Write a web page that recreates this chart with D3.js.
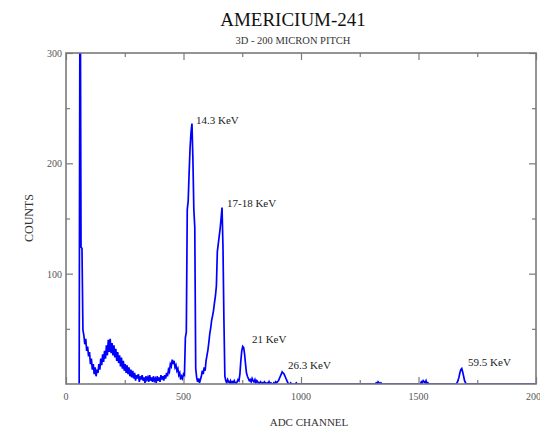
<!DOCTYPE html>
<html>
<head>
<meta charset="utf-8">
<script src="https://cdn.jsdelivr.net/npm/d3@7"></script>
<style>
	body { margin: 0; background: #fff; }
	text { font-family: "Liberation Serif", "DejaVu Serif", serif; }
</style>
</head>
<body>
<div id="chart"></div>
<script>

// spectrum, channels 56..996 in steps of 4
let lowStart = 56;
let lowStep = 4;
let lowCounts = [
	0, 420, 124, 123, 49, 44, 36, 41, 30, 34,
	25, 29, 18, 23, 13, 18, 9, 15, 7, 13,
	10, 18, 13, 23, 17, 27, 20, 30, 23, 35,
	26, 40, 29, 41, 28, 37, 26, 35, 24, 32,
	21, 29, 19, 26, 16, 24, 14, 21, 12, 18,
	10, 17, 9, 15, 7, 13, 6, 12, 5, 10,
	3, 8, 5, 9, 2, 7, 4, 8, 3, 6,
	1, 7, 4, 6, 2, 8, 3, 6, 2, 7,
	3, 5, 1, 7, 3, 6, 2, 8, 4, 7,
	3, 8, 5, 10, 7, 13, 11, 18, 16, 22,
	18, 21, 15, 17, 12, 14, 8, 10, 4, 7,
	5, 9, 8, 42, 47, 158, 166, 192, 214, 228,
	236, 204, 158, 142, 14, 6, 2, 5, 1, 4,
	7, 12, 9, 15, 12, 21, 26, 31, 38, 46,
	51, 58, 62, 67, 74, 80, 89, 120, 127, 134,
	141, 150, 160, 124, 58, 7, 3, 1, 4, 2,
	1, 3, 0, 2, 1, 3, 1, 0, 2, 4,
	3, 9, 21, 30, 34, 33, 27, 18, 10, 7,
	5, 3, 4, 2, 5, 3, 2, 4, 1, 3,
	2, 0, 1, 2, 0, 1, 0, 2, 1, 0,
	1, 0, 2, 0, 1, 0, 0, 1, 0, 2,
	1, 2, 3, 5, 7, 9, 11, 10, 9, 7,
	5, 3, 1, 0, 0, 1, 0, 0, 0, 0,
	0, 1, 0, 0, 0, 0
];

// upper part of the spectrum, only where something shows
let highChannels = [1000, 1316, 1320, 1324, 1328, 1332, 1336, 1340, 1344, 1500,
	1508, 1512, 1516, 1520, 1524, 1528, 1532, 1536, 1540, 1544,
	1660, 1664, 1668, 1672, 1676, 1680, 1684, 1688, 1692, 1696, 1700, 1704, 2000];
let highCounts = [0, 0, 1, 0, 2, 1, 0, 1, 0, 0,
	0, 2, 1, 3, 2, 1, 3, 0, 1, 0,
	0, 1, 3, 6, 10, 13, 14, 11, 7, 3, 1, 0, 0];

let xTicks = [0, 500, 1000, 1500, 2000];
let xMinorTicks = [250, 750, 1250, 1750];
let yTicks = [100, 200, 300];
let yMinorTicks = [50, 150, 250];

let peakNames = ['14.3 KeV', '17-18 KeV', '21 KeV', '26.3 KeV', '59.5 KeV'];
let peakLabelAt = [[553, 236], [685, 160], [791, 37], [945, 13.6], [1711, 16.3]];

let title = 'AMERICIUM-241';
let subtitle = '3D - 200 MICRON PITCH';

let width = 540;
let height = 430;
let plotLeft = 66, plotRight = 536, plotTop = 53, plotBottom = 384;

let data = lowCounts.map((c, i) => [lowStart + i * lowStep, c])
	.concat(highChannels.map((ch, i) => [ch, highCounts[i]]));

let x = d3.scaleLinear().domain([0, 2000]).range([plotLeft, plotRight]);
let y = d3.scaleLinear().domain([0, 300]).range([plotBottom, plotTop]);

let svg = d3.select('#chart')
	.append('svg')
	.attr('width', width)
	.attr('height', height);

svg.append('rect').attr('width', width).attr('height', height).attr('fill', '#fff');

svg.append('clipPath').attr('id', 'plot')
	.append('rect')
	.attr('x', plotLeft).attr('y', plotTop)
	.attr('width', plotRight - plotLeft).attr('height', plotBottom - plotTop);

let line = d3.line().x(d => x(d[0])).y(d => y(d[1]));

svg.append('path')
	.datum(data)
	.attr('clip-path', 'url(#plot)')
	.attr('fill', 'none')
	.attr('stroke', '#0000ff')
	.attr('stroke-width', 1.7)
	.attr('stroke-linejoin', 'miter')
	.attr('d', line);

// frame + ticks on all four sides
let grey = '#7a7a7a';
let major = 7, minor = 4;

function tickAxis(axis, pos, values, size) {
	let g = svg.append('g')
		.attr('transform', pos)
		.call(axis.tickValues(values).tickSize(size).tickFormat(''));
	g.select('.domain').remove();
	g.selectAll('line').attr('stroke', grey).attr('stroke-width', 1.2);
}

tickAxis(d3.axisBottom(x), `translate(0,${plotBottom})`, xTicks, -major);
tickAxis(d3.axisBottom(x), `translate(0,${plotBottom})`, xMinorTicks, -minor);
tickAxis(d3.axisTop(x), `translate(0,${plotTop})`, xTicks, -major);
tickAxis(d3.axisTop(x), `translate(0,${plotTop})`, xMinorTicks, -minor);
tickAxis(d3.axisLeft(y), `translate(${plotLeft},0)`, yTicks, -major);
tickAxis(d3.axisLeft(y), `translate(${plotLeft},0)`, yMinorTicks, -minor);
tickAxis(d3.axisRight(y), `translate(${plotRight},0)`, yTicks, -major);
tickAxis(d3.axisRight(y), `translate(${plotRight},0)`, yMinorTicks, -minor);

svg.append('rect')
	.attr('x', plotLeft).attr('y', plotTop)
	.attr('width', plotRight - plotLeft).attr('height', plotBottom - plotTop)
	.attr('fill', 'none')
	.attr('stroke', grey)
	.attr('stroke-width', 1.6);

// tick labels
svg.append('g').selectAll('text')
	.data(xTicks)
	.join('text')
	.attr('x', d => x(d))
	.attr('y', plotBottom + 16)
	.attr('text-anchor', 'middle')
	.attr('font-size', 10)
	.attr('fill', '#555')
	.text(d => d);

svg.append('g').selectAll('text')
	.data(yTicks)
	.join('text')
	.attr('x', plotLeft - 4)
	.attr('y', d => y(d) + 4)
	.attr('text-anchor', 'end')
	.attr('font-size', 10)
	.attr('fill', '#555')
	.text(d => d);

// titles
svg.append('text')
	.attr('x', (plotLeft + plotRight) / 2 - 8)
	.attr('y', 26)
	.attr('text-anchor', 'middle')
	.attr('font-size', 19)
	.attr('fill', '#111')
	.text(title);

svg.append('text')
	.attr('x', (plotLeft + plotRight) / 2 - 8)
	.attr('y', 44)
	.attr('text-anchor', 'middle')
	.attr('font-size', 10.5)
	.attr('fill', '#333')
	.text(subtitle);

svg.append('text')
	.attr('transform', `translate(33,218) rotate(-90)`)
	.attr('text-anchor', 'middle')
	.attr('font-size', 12)
	.attr('fill', '#333')
	.text('COUNTS');

svg.append('text')
	.attr('x', (plotLeft + plotRight) / 2 + 8)
	.attr('y', 426)
	.attr('text-anchor', 'middle')
	.attr('font-size', 11)
	.attr('fill', '#333')
	.text('ADC CHANNEL');

// peak labels
svg.append('g').selectAll('text')
	.data(peakNames)
	.join('text')
	.attr('x', (d, i) => x(peakLabelAt[i][0]))
	.attr('y', (d, i) => y(peakLabelAt[i][1]))
	.attr('font-size', 11)
	.attr('fill', '#222')
	.text(d => d);

</script>
</body>
</html>
